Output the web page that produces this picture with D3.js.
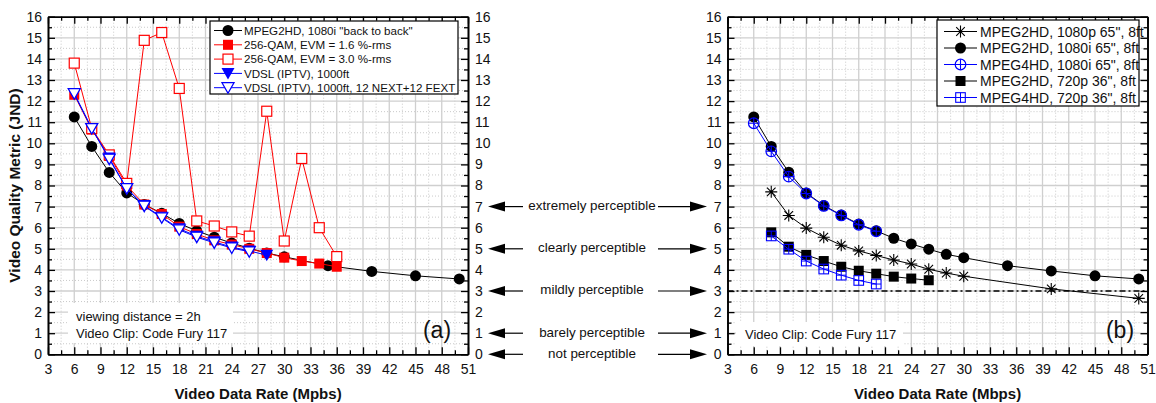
<!DOCTYPE html>
<html>
<head>
<meta charset="utf-8">
<script src="https://cdn.jsdelivr.net/npm/d3@7"></script>
<style>
  body { margin: 0; background: #fff; }
  svg { font-family: Arial, "Liberation Sans", sans-serif; }
</style>
</head>
<body>
<svg id="chart" width="1156" height="403"></svg>
<script>
// ===== Data =====
const xTicks = [3, 6, 9, 12, 15, 18, 21, 24, 27, 30, 33, 36, 39, 42, 45, 48, 51];
const yTicks = [0, 1, 2, 3, 4, 5, 6, 7, 8, 9, 10, 11, 12, 13, 14, 15, 16];

// panel (a)
const legendA = [
  'MPEG2HD, 1080i "back to back"',
  "256-QAM, EVM = 1.6 %-rms",
  "256-QAM, EVM = 3.0 %-rms",
  "VDSL (IPTV), 1000ft",
  "VDSL (IPTV), 1000ft, 12 NEXT+12 FEXT"
];
const rateB2B = [6, 8, 10, 12, 14, 16, 18, 20, 22, 24, 26, 28, 30, 35, 40, 45, 50];
const jndB2B = [11.25, 9.85, 8.62, 7.65, 7.1, 6.68, 6.2, 5.85, 5.55, 5.27, 5.03, 4.8, 4.62, 4.2, 3.93, 3.72, 3.57];
const rateQam16 = [6, 8, 10, 12, 14, 16, 18, 20, 22, 24, 26, 28, 30, 32, 34, 36];
const jndQam16 = [12.3, 10.65, 9.4, 8.0, 7.1, 6.65, 6.05, 5.7, 5.4, 5.2, 5.0, 4.8, 4.58, 4.42, 4.3, 4.15];
const rateQam30 = [6, 8, 10, 12, 14, 16, 18, 20, 22, 24, 26, 28, 30, 32, 34, 36];
const jndQam30 = [13.8, 10.7, 9.45, 8.1, 14.88, 15.25, 12.6, 6.32, 6.08, 5.8, 5.6, 11.52, 5.37, 9.28, 6.0, 4.63];
const rateVdsl = [6, 8, 10, 12, 14, 16, 18, 20, 22, 24, 26, 28];
const jndVdsl = [12.35, 10.7, 9.3, 7.85, 7.05, 6.5, 5.95, 5.6, 5.33, 5.08, 4.9, 4.7];
const rateVdslX = [6, 8, 10, 12, 14, 16, 18, 20, 22, 24, 26];
const jndVdslX = [12.35, 10.7, 9.25, 7.85, 7.02, 6.47, 5.9, 5.55, 5.28, 5.04, 4.86];

// panel (b)
const legendB = [
  'MPEG2HD, 1080p 65", 8ft',
  'MPEG2HD, 1080i 65", 8ft',
  'MPEG4HD, 1080i 65", 8ft',
  'MPEG2HD, 720p 36", 8ft',
  'MPEG4HD, 720p 36", 8ft'
];
const rate2p1080 = [8, 10, 12, 14, 16, 18, 20, 22, 24, 26, 28, 30, 40, 50];
const jnd2p1080 = [7.7, 6.58, 5.98, 5.55, 5.17, 4.9, 4.68, 4.47, 4.28, 4.03, 3.85, 3.7, 3.1, 2.65];
const rate2i1080 = [6, 8, 10, 12, 14, 16, 18, 20, 22, 24, 26, 28, 30, 35, 40, 45, 50];
const jnd2i1080 = [11.25, 9.85, 8.63, 7.65, 7.05, 6.6, 6.17, 5.85, 5.5, 5.23, 4.98, 4.74, 4.58, 4.2, 3.95, 3.72, 3.57];
const rate4i1080 = [6, 8, 10, 12, 14, 16, 18, 20];
const jnd4i1080 = [10.95, 9.62, 8.42, 7.62, 7.03, 6.58, 6.14, 5.83];
const rate2p720 = [8, 10, 12, 14, 16, 18, 20, 22, 24, 26];
const jnd2p720 = [5.78, 5.1, 4.71, 4.42, 4.15, 3.96, 3.82, 3.68, 3.59, 3.51];
const rate4p720 = [8, 10, 12, 14, 16, 18, 20];
const jnd4p720 = [5.61, 4.98, 4.42, 4.04, 3.75, 3.5, 3.33];
const thresholdJnd = 3;

// perceptibility scale between the panels
const perceptLabels = ["extremely perceptible", "clearly perceptible", "mildly perceptible", "barely perceptible", "not perceptible"];
const perceptLevels = [7, 5, 3, 1, 0];

// ===== Setup =====
const svg = d3.select("#chart");
const PW = 420;
const Y0 = 354.3, Y16 = 16.7;

const seriesA = [
  { xs: rateB2B, ys: jndB2B, color: "#000", marker: "circle", label: legendA[0] },
  { xs: rateQam16, ys: jndQam16, color: "#f00", marker: "square", label: legendA[1] },
  { xs: rateQam30, ys: jndQam30, color: "#f00", marker: "squareOpen", label: legendA[2] },
  { xs: rateVdsl, ys: jndVdsl, color: "#00f", marker: "triDown", label: legendA[3] },
  { xs: rateVdslX, ys: jndVdslX, color: "#00f", marker: "triDownOpen", label: legendA[4] }
];
const seriesB = [
  { xs: rate2p1080, ys: jnd2p1080, color: "#000", marker: "asterisk", label: legendB[0] },
  { xs: rate2i1080, ys: jnd2i1080, color: "#000", marker: "circle", label: legendB[1] },
  { xs: rate4i1080, ys: jnd4i1080, color: "#00f", marker: "circleCross", label: legendB[2] },
  { xs: rate2p720, ys: jnd2p720, color: "#000", marker: "square", label: legendB[3] },
  { xs: rate4p720, ys: jnd4p720, color: "#00f", marker: "squareCross", label: legendB[4] }
];

// ===== Markers =====
const drawMarker = (g, type, c) => {
  switch (type) {
    case "circle":
      g.append("circle").attr("r", 5.5).attr("fill", c);
      break;
    case "square":
      g.append("rect").attr("x", -5).attr("y", -5).attr("width", 10).attr("height", 10).attr("fill", c);
      break;
    case "squareOpen":
      g.append("rect").attr("x", -5).attr("y", -5).attr("width", 10).attr("height", 10)
        .attr("fill", "#fff").attr("stroke", c).attr("stroke-width", 1.2);
      break;
    case "triDown":
      g.append("path").attr("d", "M-6.5,-5.5L6.5,-5.5L0,6Z").attr("fill", c);
      break;
    case "triDownOpen":
      g.append("path").attr("d", "M-6,-5L6,-5L0,5.5Z").attr("fill", "#fff")
        .attr("stroke", c).attr("stroke-width", 1.3);
      break;
    case "asterisk":
      g.append("path").attr("d", "M-6,0H6M0,-6V6M-4.3,-4.3L4.3,4.3M-4.3,4.3L4.3,-4.3")
        .attr("stroke", c).attr("stroke-width", 1.1).attr("fill", "none");
      break;
    case "circleCross":
      g.append("circle").attr("r", 5.3).attr("fill", "none").attr("stroke", c).attr("stroke-width", 1.2);
      g.append("path").attr("d", "M-5.3,0H5.3M0,-5.3V5.3").attr("stroke", c).attr("stroke-width", 1.1);
      break;
    case "squareCross":
      g.append("rect").attr("x", -4.8).attr("y", -4.8).attr("width", 9.6).attr("height", 9.6)
        .attr("fill", "none").attr("stroke", c).attr("stroke-width", 1.1);
      g.append("path").attr("d", "M-4.8,0H4.8M0,-4.8V4.8").attr("stroke", c).attr("stroke-width", 1);
      break;
  }
};

// ===== Panel builder =====
const buildPanel = (x0, cfg) => {
  const x = d3.scaleLinear().domain([3, 51]).range([x0, x0 + PW]);
  const y = d3.scaleLinear().domain([0, 16]).range([Y0, Y16]);
  const g = svg.append("g");
  const xMinor = d3.range(4.5, 51, 3);
  const yMinor = d3.range(0.5, 16, 1);

  // grid
  g.selectAll(".gxm").data(xMinor).enter().append("line")
    .attr("x1", (d) => x(d)).attr("x2", (d) => x(d)).attr("y1", Y16).attr("y2", Y0)
    .attr("stroke", "#bdbdbd").attr("stroke-width", 0.8).attr("stroke-dasharray", "1,2");
  g.selectAll(".gym").data(yMinor).enter().append("line")
    .attr("y1", (d) => y(d)).attr("y2", (d) => y(d)).attr("x1", x0).attr("x2", x0 + PW)
    .attr("stroke", "#bdbdbd").attr("stroke-width", 0.8).attr("stroke-dasharray", "1,2");
  g.selectAll(".gx").data(xTicks.slice(1, -1)).enter().append("line")
    .attr("x1", (d) => x(d)).attr("x2", (d) => x(d)).attr("y1", Y16).attr("y2", Y0)
    .attr("stroke", "#cfcfcf").attr("stroke-width", 1.3);
  g.selectAll(".gy").data(yTicks.slice(1, -1)).enter().append("line")
    .attr("y1", (d) => y(d)).attr("y2", (d) => y(d)).attr("x1", x0).attr("x2", x0 + PW)
    .attr("stroke", "#cfcfcf").attr("stroke-width", 1.3);

  // text boxes (white background covering grid)
  cfg.notes.forEach((n) => {
    g.append("rect").attr("x", n.bx).attr("y", n.by).attr("width", n.bw).attr("height", n.bh).attr("fill", "#fff");
    n.lines.forEach((t, i) => {
      g.append("text").attr("x", n.tx).attr("y", n.ty + i * 16.5)
        .attr("font-size", 13).attr("fill", "#111").text(t);
    });
  });
  g.append("text").attr("x", cfg.tagX).attr("y", 338).attr("text-anchor", "middle")
    .attr("font-size", 23).attr("fill", "#111").text(cfg.tag);

  if (cfg.hline !== undefined) {
    g.append("line").attr("x1", x0).attr("x2", x0 + PW).attr("y1", y(cfg.hline)).attr("y2", y(cfg.hline))
      .attr("stroke", "#000").attr("stroke-width", 1.5).attr("stroke-dasharray", "6,3,2,3");
  }

  // series
  const line = d3.line().x((d) => x(d[0])).y((d) => y(d[1]));
  cfg.series.forEach((s) => {
    const pts = s.xs.map((v, i) => [v, s.ys[i]]);
    g.append("path").datum(pts).attr("d", line).attr("fill", "none")
      .attr("stroke", s.color).attr("stroke-width", 1);
    pts.forEach((p) => {
      const m = g.append("g").attr("transform", `translate(${x(p[0])},${y(p[1])})`);
      drawMarker(m, s.marker, s.color);
    });
  });

  // axes (ticks inward, frame)
  const styleAxis = (ax) => {
    ax.selectAll("text").attr("font-size", 14).attr("fill", "#111").attr("font-family", "Arial, 'Liberation Sans', sans-serif");
    ax.selectAll("line").attr("stroke", "#000").attr("stroke-width", 1.3);
    ax.select(".domain").attr("stroke", "#000").attr("stroke-width", 1.6);
  };
  const axes = [
    { fn: d3.axisBottom, scale: x, major: xTicks, minor: xMinor, pos: `translate(0,${Y0})`, labels: true, pad: 10 },
    { fn: d3.axisTop, scale: x, major: xTicks, minor: xMinor, pos: `translate(0,${Y16})`, labels: false },
    { fn: d3.axisLeft, scale: y, major: yTicks, minor: yMinor, pos: `translate(${x0},0)`, labels: cfg.leftLabels, pad: 6 },
    { fn: d3.axisRight, scale: y, major: yTicks, minor: yMinor, pos: `translate(${x0 + PW},0)`, labels: cfg.rightLabels, pad: 7 }
  ];
  axes.forEach((a) => {
    const minorAx = g.append("g").attr("transform", a.pos)
      .call(a.fn(a.scale).tickValues(a.minor).tickSizeInner(-4).tickSizeOuter(0).tickFormat(""));
    styleAxis(minorAx);
    const majorAx = g.append("g").attr("transform", a.pos)
      .call(a.fn(a.scale).tickValues(a.major).tickSizeInner(-7).tickSizeOuter(0)
        .tickPadding(a.pad || 3).tickFormat(a.labels ? d3.format("d") : ""));
    styleAxis(majorAx);
  });

  // legend
  const L = cfg.legend;
  const lg = g.append("g");
  lg.append("rect").attr("x", L.x).attr("y", L.y).attr("width", L.w).attr("height", L.h)
    .attr("fill", "#fff").attr("stroke", "#000").attr("stroke-width", 1.2);
  cfg.series.forEach((s, i) => {
    const ry = L.row0 + i * L.step;
    lg.append("line").attr("x1", L.lx0).attr("x2", L.lx1).attr("y1", ry).attr("y2", ry)
      .attr("stroke", s.color).attr("stroke-width", 1);
    drawMarker(lg.append("g").attr("transform", `translate(${(L.lx0 + L.lx1) / 2},${ry})`), s.marker, s.color);
    lg.append("text").attr("x", L.tx).attr("y", ry).attr("dy", "0.36em")
      .attr("font-size", L.fs).attr("fill", "#111").text(s.label);
  });

  // x title
  svg.append("text").attr("x", x0 + PW / 2).attr("y", 399).attr("text-anchor", "middle")
    .attr("font-size", 15).attr("font-weight", "bold").attr("fill", "#111").text(cfg.xTitle);

  return { x, y };
};

const pa = buildPanel(48, {
  series: seriesA,
  tag: "(a)", tagX: 437,
  leftLabels: true, rightLabels: true,
  notes: [{ bx: 68, by: 303, bw: 165, bh: 40, tx: 76, ty: 321, lines: ["viewing distance = 2h", "Video Clip: Code Fury 117"] }],
  legend: { x: 210, y: 21, w: 248, h: 73, row0: 30.5, step: 14.3, lx0: 214, lx1: 242, tx: 244, fs: 11.6 },
  xTitle: "Video Data Rate (Mpbs)"
});
const pb = buildPanel(727.5, {
  series: seriesB,
  tag: "(b)", tagX: 1120,
  leftLabels: true, rightLabels: false,
  hline: thresholdJnd,
  notes: [{ bx: 736, by: 322, bw: 167, bh: 24, tx: 745, ty: 339, lines: ["Video Clip: Code Fury 117"] }],
  legend: { x: 937, y: 20, w: 202, h: 86, row0: 31.5, step: 16.5, lx0: 944, lx1: 977, tx: 980, fs: 14 },
  xTitle: "Video Data Rate (Mbps)"
});

// y title
svg.append("text").attr("transform", `translate(20,${(Y0 + Y16) / 2}) rotate(-90)`)
  .attr("text-anchor", "middle").attr("font-size", 15.5).attr("font-weight", "bold").attr("fill", "#111")
  .text("Video Quality Metric (JND)");

// ===== Perceptibility arrows =====
const arrowHead = (tipX, yy, dir) =>
  `M${tipX},${yy}L${tipX + dir * 17},${yy - 5}L${tipX + dir * 17},${yy + 5}Z`;
const pg = svg.append("g");
perceptLevels.forEach((lv, i) => {
  const yy = pa.y(lv);
  pg.append("line").attr("x1", 523).attr("x2", 500).attr("y1", yy).attr("y2", yy).attr("stroke", "#000").attr("stroke-width", 1.2);
  pg.append("path").attr("d", arrowHead(488, yy, 1)).attr("fill", "#000");
  pg.append("line").attr("x1", 658).attr("x2", 695).attr("y1", yy).attr("y2", yy).attr("stroke", "#000").attr("stroke-width", 1.2);
  pg.append("path").attr("d", arrowHead(707, yy, -1)).attr("fill", "#000");
  pg.append("text").attr("x", 592).attr("y", yy - 1.5).attr("dy", "0.36em").attr("text-anchor", "middle")
    .attr("font-size", 13.4).attr("fill", "#111").text(perceptLabels[i]);
});
</script>
</body>
</html>
